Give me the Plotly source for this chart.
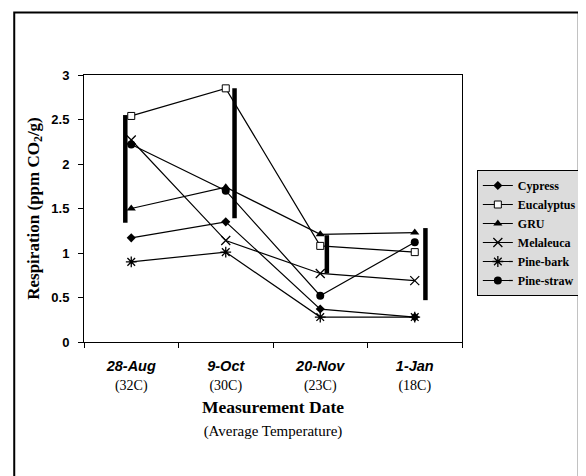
import plotly.graph_objects as go

# ---- data ----
dates = ["28-Aug", "9-Oct", "20-Nov", "1-Jan"]
temps = ["(32C)", "(30C)", "(23C)", "(18C)"]

cypress = [1.17, 1.35, 0.37, 0.28]
eucalyptus = [2.54, 2.85, 1.08, 1.01]
gru = [1.50, 1.74, 1.21, 1.23]
melaleuca = [2.27, 1.14, 0.77, 0.69]
pine_bark = [0.90, 1.01, 0.28, 0.28]
pine_straw = [2.22, 1.70, 0.52, 1.12]

lsd_low = [1.34, 1.39, 0.77, 0.47]
lsd_high = [2.55, 2.85, 1.20, 1.28]

# ---- layout geometry (pixels, in page coordinates) ----
W, H = 586, 476
OFF = 8  # default page body margin
L, R, T, B = 84 - OFF, 466 - OFF, 75 - OFF, 342 - OFF
lsd_offset = [-0.063, 0.093, 0.070, 0.113]


def px_x(p):
    return (p - OFF - L) / (R - L)


def px_y(p):
    return (B - (p - OFF)) / (B - T)


SERIF = "Liberation Serif"
SANS = "Liberation Sans"

series = [
    ("Cypress", cypress, dict(symbol="diamond", size=7, color="black")),
    ("Eucalyptus", eucalyptus, dict(symbol="square", size=7, color="white",
                                    line=dict(color="black", width=1))),
    ("GRU", gru, dict(symbol="triangle-up", size=8, color="black")),
    ("Melaleuca", melaleuca, dict(symbol="x-thin-open", size=9,
                                  line=dict(color="black", width=1.3))),
    ("Pine-bark", pine_bark, dict(symbol="asterisk-open", size=9,
                                  line=dict(color="black", width=1.3))),
    ("Pine-straw", pine_straw, dict(symbol="circle", size=8, color="black")),
]

xs = list(range(len(dates)))

fig = go.Figure()

# LSD bars
for i in xs:
    fig.add_trace(go.Scatter(
        x=[i + lsd_offset[i], i + lsd_offset[i]],
        y=[lsd_low[i], lsd_high[i]],
        mode="lines", line=dict(color="black", width=4.5),
        showlegend=False, hoverinfo="skip"))

for name, vals, mk in series:
    fig.add_trace(go.Scatter(
        x=xs, y=vals, name=name, mode="lines+markers",
        line=dict(color="black", width=1.2), marker=mk))

ticktext = [
    f"<b><i>{d}</i></b><br><span style='font-family:{SERIF};font-size:14px'>{t}</span>"
    for d, t in zip(dates, temps)
]

fig.update_layout(
    width=W, height=H,
    margin=dict(l=L, r=W - R, t=T, b=H - B),
    paper_bgcolor="white", plot_bgcolor="white",
    font=dict(family=SANS, color="black"),
    showlegend=True,
    legend=dict(
        x=px_x(481), y=px_y(170), xanchor="left", yanchor="top",
        bgcolor="#dcdcdc", bordercolor="black", borderwidth=1,
        font=dict(family=SERIF, size=12, color="black", weight="bold"),
        itemwidth=30, tracegroupgap=0,
    ),
    xaxis=dict(
        range=[-0.5, 3.5], tickvals=xs, ticktext=ticktext,
        ticks="", showgrid=False, zeroline=False,
        showline=True, linecolor="black", linewidth=1, mirror=True,
        tickfont=dict(family=SANS, size=14.5, color="black"),
        ticklabelstandoff=11,
        minor=dict(tickvals=[-0.5, 0.5, 1.5, 2.5, 3.5], ticks="outside",
                   ticklen=5, tickcolor="black", showgrid=False),
        title=dict(
            text="<b>Measurement Date</b><br><span style='font-size:15px'>(Average Temperature)</span>",
            font=dict(family=SERIF, size=17.5, color="black"), standoff=7),
    ),
    yaxis=dict(
        range=[0, 3], tickvals=[0, 0.5, 1, 1.5, 2, 2.5, 3],
        ticktext=["0", "0.5", "1", "1.5", "2", "2.5", "3"],
        ticks="outside", ticklen=5, tickcolor="black",
        showgrid=False, zeroline=False,
        showline=True, linecolor="black", linewidth=1, mirror=True,
        tickfont=dict(family=SANS, size=13, color="black", weight="bold"),
        ticklabelstandoff=6,
        title=dict(text="<b>Respiration (ppm CO<sub>2</sub>/g)</b>",
                   font=dict(family=SERIF, size=17, color="black"), standoff=7),
    ),
    shapes=[dict(type="rect", xref="paper", yref="paper",
                 x0=px_x(13.5), x1=px_x(584), y0=px_y(500), y1=px_y(12.5),
                 line=dict(color="black", width=2), fillcolor="rgba(0,0,0,0)",
                 layer="below")],
)

fig.write_html("out.html")
